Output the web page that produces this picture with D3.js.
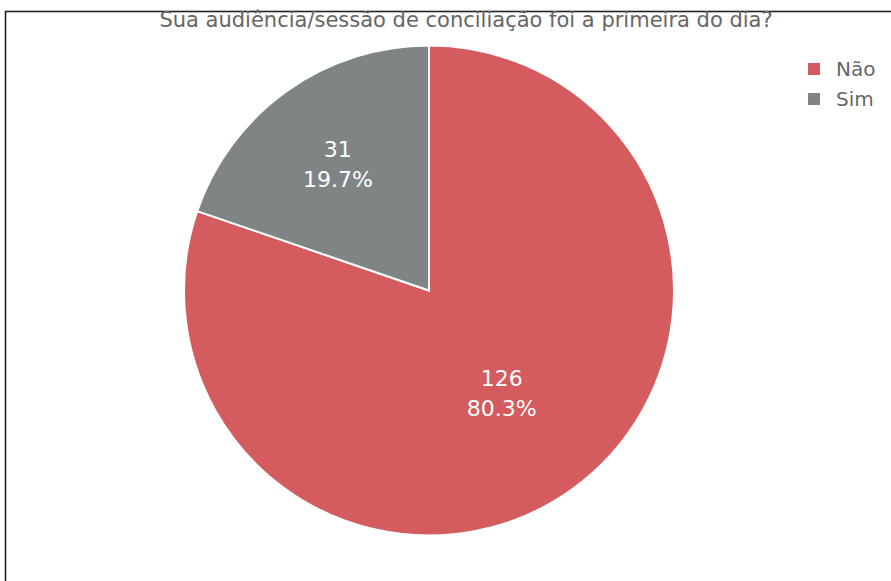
<!DOCTYPE html>
<html>
<head>
<meta charset="utf-8">
<script src="https://cdn.jsdelivr.net/npm/d3@7"></script>
<style>
  body { margin: 0; background: #fff; }
  svg { display: block; }
</style>
</head>
<body>
<script>
var width = 891,
    height = 581;

// chart data
var title = "Sua audiência/sessão de conciliação foi a primeira do dia?";
var categories = ["Não", "Sim"];
var counts = [126, 31];
var colors = ["#d45c5e", "#7f8585"];

var cx = 429, cy = 290.5, radius = 245;

var svg = d3.select("body").append("svg")
    .attr("width", width)
    .attr("height", height);

// frame (top and left edges visible, the rest is cut off)
svg.append("rect")
    .attr("x", 5.5)
    .attr("y", 11.5)
    .attr("width", width + 20)
    .attr("height", height + 20)
    .attr("fill", "none")
    .attr("stroke", "#222")
    .attr("stroke-width", 1.6);

var total = d3.sum(counts);
var data = categories.map(function(c, i) {
    return {name: c, value: counts[i], color: colors[i]};
});

var pie = d3.pie()
    .sort(null)
    .value(function(d) { return d.value; });

var arc = d3.arc()
    .innerRadius(0)
    .outerRadius(radius);

var g = svg.append("g")
    .attr("transform", "translate(" + cx + "," + cy + ")");

var arcs = pie(data);

g.selectAll("path.slice")
    .data(arcs)
    .enter().append("path")
    .attr("class", "slice")
    .attr("d", arc)
    .attr("fill", function(d) { return d.data.color; })
    .attr("stroke", "#fff")
    .attr("stroke-width", 2);

// inside labels: bigger slice at half radius, small one pushed out a bit
var pctFmt = d3.format(".1%");
var labels = g.selectAll("text.lbl")
    .data(arcs)
    .enter().append("text")
    .attr("class", "lbl")
    .attr("transform", function(d, i) {
        var r = i === 0 ? radius * 0.51 : radius * 0.64;
        var a = (d.startAngle + d.endAngle) / 2;
        return "translate(" + (r * Math.sin(a)) + "," + (-r * Math.cos(a)) + ")";
    })
    .attr("text-anchor", "middle")
    .style("font-family", "'DejaVu Sans', Verdana, sans-serif")
    .style("font-size", "22px")
    .style("fill", "#fff");

labels.append("tspan")
    .attr("x", 0)
    .attr("y", -6)
    .text(function(d) { return d.data.value; });
labels.append("tspan")
    .attr("x", 0)
    .attr("y", 24)
    .text(function(d) { return pctFmt(d.data.value / total); });

// title
svg.append("text")
    .attr("x", 466)
    .attr("y", 27)
    .attr("text-anchor", "middle")
    .style("font-family", "'DejaVu Sans', Verdana, sans-serif")
    .style("font-size", "21px")
    .style("fill", "#666")
    .text(title);

// legend
var legend = svg.selectAll("g.legend")
    .data(data)
    .enter().append("g")
    .attr("class", "legend")
    .attr("transform", function(d, i) { return "translate(808," + (63 + i * 30) + ")"; });

legend.append("rect")
    .attr("width", 12)
    .attr("height", 12)
    .attr("fill", function(d) { return d.color; });

legend.append("text")
    .attr("x", 28)
    .attr("y", 13)
    .style("font-family", "'DejaVu Sans', Verdana, sans-serif")
    .style("font-size", "20px")
    .style("fill", "#666")
    .text(function(d) { return d.name; });
</script>
</body>
</html>
